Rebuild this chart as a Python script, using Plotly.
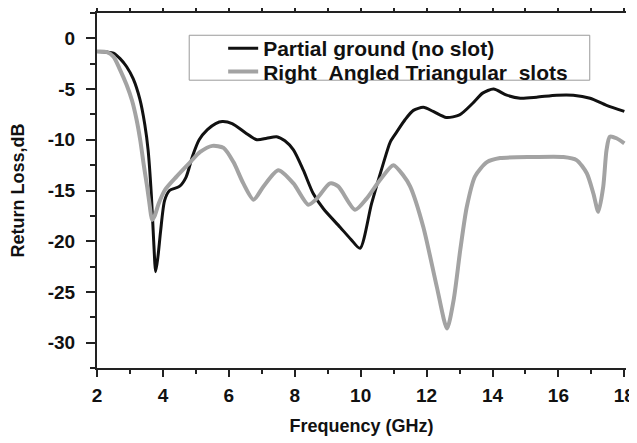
import plotly.graph_objects as go

# Partial ground (no slot)
freq_a = [2.0, 2.3, 2.5, 2.7, 2.9, 3.1, 3.3, 3.45, 3.55, 3.65, 3.72, 3.78, 3.85, 3.93, 4.05, 4.2,
          4.5, 4.7, 4.9, 5.1, 5.35, 5.6, 5.8, 6.1, 6.5, 6.85, 7.15, 7.45, 7.7, 7.96, 8.26, 8.56,
          8.87, 9.37, 9.7, 9.98, 10.33, 10.69, 10.9, 11.1, 11.35, 11.6, 11.9, 12.2, 12.6, 13.0,
          13.4, 13.7, 14.03, 14.43, 14.84, 15.34, 15.95, 16.45, 16.96, 17.46, 18.0]
rl_a = [-1.3, -1.35, -1.45, -2.0, -2.8, -4.0, -6.0, -8.5, -11.0, -15.5, -20.0, -23.0, -21.5, -19.0,
        -16.0, -15.0, -14.6, -13.7, -11.6, -10.0, -9.0, -8.4, -8.2, -8.4, -9.3, -10.0, -9.85, -9.7,
        -10.1, -11.0, -13.0, -15.3, -16.8, -18.6, -19.8, -20.7, -16.3, -12.3, -10.2, -9.2, -8.0,
        -7.1, -6.8, -7.2, -7.8, -7.55, -6.4, -5.4, -5.0, -5.6, -5.9, -5.8, -5.6, -5.6, -5.9, -6.6,
        -7.2]

# Right Angled Triangular slots
freq_b = [2.0, 2.3, 2.5, 2.7, 2.9, 3.06, 3.2, 3.31, 3.42, 3.52, 3.6, 3.67, 3.75, 3.87, 4.07, 4.42,
          4.83, 5.13, 5.5, 5.84, 6.14, 6.44, 6.75, 7.05, 7.5, 7.96, 8.41, 8.67, 9.07, 9.32, 9.83,
          10.18, 10.58, 10.99, 11.29, 11.5, 11.9, 12.31, 12.62, 12.82, 13.02, 13.22, 13.47, 13.83,
          14.23, 15.24, 16.15, 16.55, 16.86, 17.06, 17.21, 17.36, 17.46, 17.56, 17.76, 18.0]
rl_b = [-1.3, -1.35, -1.8, -3.1, -4.6, -6.1, -8.0, -10.0, -12.5, -14.6, -16.5, -17.9, -17.5, -16.3,
        -14.9, -13.6, -12.2, -11.2, -10.6, -10.8, -12.2, -14.3, -15.9, -14.6, -13.0, -14.3, -16.4,
        -15.8, -14.3, -14.6, -16.9, -15.8, -14.0, -12.5, -13.5, -14.6, -18.6, -24.5, -28.6, -25.8,
        -20.9, -16.6, -13.6, -12.2, -11.8, -11.7, -11.7, -12.0, -13.3, -15.3, -17.1, -14.6, -11.0,
        -9.7, -9.85, -10.35]

x_ticks = [2, 4, 6, 8, 10, 12, 14, 16, 18]
y_ticks = [0, -5, -10, -15, -20, -25, -30]

font_family = "Liberation Sans, Arial, sans-serif"
legend_font = dict(size=21, weight="bold", family=font_family, color="#111111")

fig = go.Figure()
fig.add_trace(go.Scatter(x=freq_a, y=rl_a, mode="lines",
                         name="Partial ground (no slot)", legend="legend",
                         line=dict(color="#111111", width=3, shape="spline", smoothing=0.7)))
fig.add_trace(go.Scatter(x=freq_b, y=rl_b, mode="lines",
                         name="Right\u00a0\u00a0Angled Triangular\u00a0\u00a0slots", legend="legend2",
                         line=dict(color="#a3a3a3", width=4, shape="spline", smoothing=0.7)))

fig.update_layout(
    width=629, height=435,
    margin=dict(l=89, r=11, t=5, b=75, autoexpand=False),
    paper_bgcolor="white", plot_bgcolor="white",
    font=dict(family=font_family, color="#111111"),
    showlegend=True,
    legend=dict(x=0.2385, y=0.900, xanchor="left", yanchor="middle",
                bgcolor="rgba(0,0,0,0)", borderwidth=0, font=legend_font),
    legend2=dict(x=0.2385, y=0.834, xanchor="left", yanchor="middle",
                 bgcolor="rgba(0,0,0,0)", borderwidth=0, font=legend_font),
    shapes=[dict(type="rect", xref="paper", yref="paper",
                 x0=0.1743, x1=0.9315, y0=0.8107, y1=0.9373,
                 line=dict(color="#9a9a9a", width=1), fillcolor="white", layer="above")],
)
fig.update_xaxes(
    range=[2, 18.05], tickvals=x_ticks, ticktext=[str(v) for v in x_ticks],
    showgrid=False, zeroline=False, automargin=False,
    showline=True, linecolor="#222222", linewidth=2, mirror="ticks",
    ticks="outside", ticklen=7, tickwidth=2, tickcolor="#222222",
    minor=dict(dtick=1, ticks="outside", ticklen=4, tickwidth=2, tickcolor="#222222"),
    tickfont=dict(size=19, weight="bold", family=font_family), ticklabelstandoff=2,
    title=dict(text="Frequency (GHz)", font=dict(size=18, weight="bold", family=font_family),
               standoff=15),
)
fig.update_yaxes(
    range=[-32.5, 2.5], tickvals=y_ticks, ticktext=[str(v) for v in y_ticks],
    showgrid=False, zeroline=False, automargin=False,
    showline=True, linecolor="#222222", linewidth=2, mirror=False,
    ticks="outside", ticklen=9, tickwidth=2, tickcolor="#222222",
    minor=dict(dtick=2.5, tick0=0, ticks="outside", ticklen=5, tickwidth=2, tickcolor="#222222"),
    tickfont=dict(size=19, weight="bold", family=font_family), ticklabelstandoff=7,
    title=dict(text="Return Loss,dB", font=dict(size=18, weight="bold", family=font_family),
               standoff=22),
)

fig.write_html("out.html")
